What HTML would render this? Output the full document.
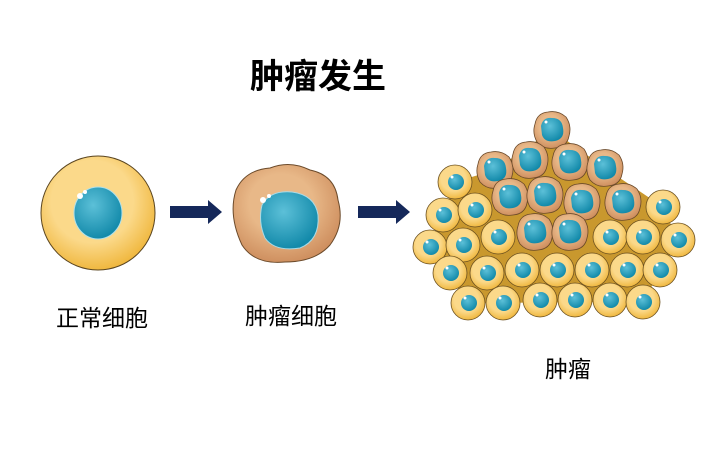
<!DOCTYPE html>
<html><head><meta charset="utf-8"><style>
body{margin:0;background:#fff;width:720px;height:450px;overflow:hidden}
text{font-family:"Liberation Sans","Noto Sans CJK SC",sans-serif}
</style></head><body>
<svg width="720" height="450" viewBox="0 0 720 450">
<defs>
<radialGradient id="y" cx="45%" cy="40%" r="60%"><stop offset="0.6" stop-color="#fbd98a"/><stop offset="1" stop-color="#f0b840"/></radialGradient>
<radialGradient id="b" cx="45%" cy="40%" r="60%"><stop offset="0.5" stop-color="#e8b888"/><stop offset="1" stop-color="#cf9060"/></radialGradient>
<radialGradient id="n" cx="40%" cy="35%" r="65%"><stop offset="0" stop-color="#5cc0d8"/><stop offset="1" stop-color="#138aaa"/></radialGradient>
<g id="yc"><circle r="17" fill="url(#y)" stroke="#6b5020" stroke-width="0.8"/><circle cx="1" r="8" fill="url(#n)"/><circle cx="-3" cy="-5" r="1.5" fill="#fff"/></g>
<g id="tc"><path d="M-17,-6 Q-15,-17 -4,-18 Q6,-20 14,-13 Q20,-4 17,6 Q15,17 3,18 Q-8,20 -15,12 Q-20,3 -17,-6Z" fill="url(#b)" stroke="#6b4a2a" stroke-width="0.8"/><path d="M-11,-4 Q-9,-13 0,-12 Q10,-12 11,-2 Q13,9 3,11 Q-7,13 -10,5Z" fill="url(#n)"/><circle cx="-6" cy="-8" r="1.5" fill="#fff"/></g>
</defs>
<text x="318" y="88" font-size="34" font-weight="bold" text-anchor="middle">肿瘤发生</text>
<circle cx="98" cy="213" r="57" fill="url(#y)" stroke="#5a4520" stroke-width="1"/>
<ellipse cx="98" cy="213" rx="24" ry="26" fill="url(#n)" stroke="#b0e0ea" stroke-width="1"/>
<circle cx="80" cy="196" r="3" fill="#fff"/><circle cx="85" cy="192" r="2" fill="#fff"/>
<path d="M236,190 Q245,170 270,168 Q290,160 310,170 Q335,175 338,200 Q345,225 330,245 Q315,262 285,262 Q255,265 242,245 Q228,215 236,190Z" fill="url(#b)" stroke="#6b4a2a" stroke-width="1"/>
<path d="M262,205 Q270,190 292,192 Q315,195 318,215 Q320,240 300,248 Q275,252 265,238 Q258,222 262,205Z" fill="url(#n)" stroke="#a8dbe8" stroke-width="1"/>
<circle cx="263" cy="200" r="3" fill="#fff"/><circle cx="269" cy="196" r="2" fill="#fff"/>
<path d="M170,206 H208 V200 L222,212 L208,224 V218 H170Z" fill="#15285a"/>
<path d="M358,206 H396 V200 L410,212 L396,224 V218 H358Z" fill="#15285a"/>
<path d="M455,182 L495,170 L552,130 L605,168 L663,207 L678,240 L643,302 L468,303 L430,247 Z" fill="#c9982e"/>
<use href="#yc" x="455" y="182"/><use href="#yc" x="663" y="207"/>
<use href="#yc" x="443" y="215"/><use href="#yc" x="475" y="210"/>
<use href="#yc" x="430" y="247"/><use href="#yc" x="463" y="245"/><use href="#yc" x="498" y="237"/><use href="#yc" x="610" y="237"/><use href="#yc" x="643" y="237"/><use href="#yc" x="678" y="240"/>
<use href="#yc" x="450" y="273"/><use href="#yc" x="487" y="273"/><use href="#yc" x="522" y="270"/><use href="#yc" x="557" y="270"/><use href="#yc" x="592" y="270"/><use href="#yc" x="627" y="270"/><use href="#yc" x="660" y="270"/>
<use href="#yc" x="468" y="303"/><use href="#yc" x="503" y="303"/><use href="#yc" x="540" y="300"/><use href="#yc" x="575" y="300"/><use href="#yc" x="610" y="300"/><use href="#yc" x="643" y="302"/>
<use href="#tc" x="552" y="130"/><use href="#tc" x="495" y="170"/><use href="#tc" x="530" y="160"/><use href="#tc" x="570" y="162"/><use href="#tc" x="605" y="168"/>
<use href="#tc" x="510" y="197"/><use href="#tc" x="545" y="195"/><use href="#tc" x="582" y="202"/><use href="#tc" x="623" y="202"/>
<use href="#tc" x="535" y="232"/><use href="#tc" x="570" y="232"/>
<text x="102" y="326" font-size="23" text-anchor="middle">正常细胞</text>
<text x="291" y="324" font-size="23" text-anchor="middle">肿瘤细胞</text>
<text x="568" y="377" font-size="23" text-anchor="middle">肿瘤</text>
</svg>
</body></html>
